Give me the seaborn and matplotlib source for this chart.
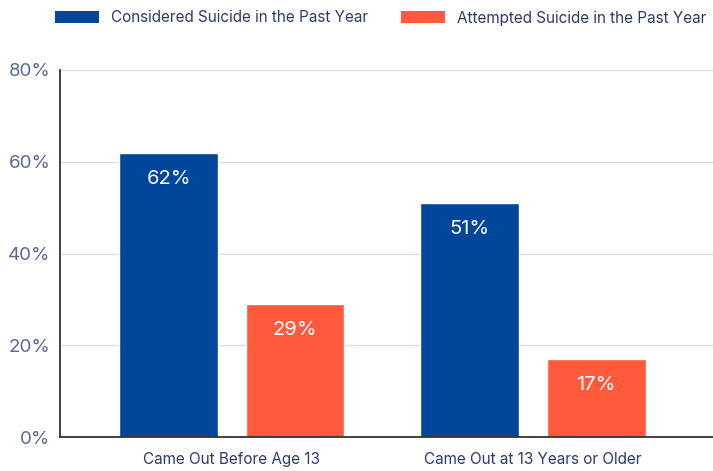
import matplotlib
matplotlib.use("Agg")
import matplotlib.pyplot as plt
import seaborn as sns
import pandas as pd
from matplotlib.patches import Patch

categories = ["Came Out Before Age 13", "Came Out at 13 Years or Older"]
series_names = ["Considered Suicide in the Past Year", "Attempted Suicide in the Past Year"]
considered = [62, 51]
attempted = [29, 17]
y_ticks = [0, 20, 40, 60, 80]
y_tick_labels = ["0%", "20%", "40%", "60%", "80%"]

colors = ["#00479b", "#ff5a3c"]
tick_color = "#5c6890"
cat_color = "#2e3a6b"

df = pd.DataFrame({
    "category": categories * 2,
    "series": [series_names[0]] * 2 + [series_names[1]] * 2,
    "value": considered + attempted,
})

sns.set_style("white")
plt.rcParams["font.family"] = ["Inter", "DejaVu Sans"]

fig = plt.figure(figsize=(7.13, 4.71), dpi=100)
ax = fig.add_axes([60 / 713, 34 / 471, 653 / 713, 367 / 471])

sns.barplot(data=df, x="category", y="value", hue="series", hue_order=series_names,
            palette=colors, width=0.84, gap=0.22, ax=ax, legend=False, saturation=1)

ax.set_ylim(0, 80)
ax.set_xlim(-0.571, 1.598)
ax.set_yticks(y_ticks)
ax.set_yticklabels(y_tick_labels, color=tick_color, fontsize=13.5)
ax.tick_params(axis="y", direction="in", length=11, width=1.5, color="#333333", pad=7)
ax.tick_params(axis="x", length=0, pad=11, labelsize=11, labelcolor=cat_color)
ax.yaxis.grid(True, color="#dddddd", linewidth=1)
ax.set_axisbelow(True)
ax.set_xlabel("")
ax.set_ylabel("")
for s in ["top", "right"]:
    ax.spines[s].set_visible(False)
for s in ["left", "bottom"]:
    ax.spines[s].set_color("#333333")
    ax.spines[s].set_linewidth(1.3)

for cont in ax.containers:
    for bar in cont:
        h = bar.get_height()
        ax.annotate(f"{h:.0f}%", (bar.get_x() + bar.get_width() / 2, h),
                    xytext=(0, -19), textcoords="offset points",
                    ha="center", va="center", color="white", fontsize=14.5)

handles = [Patch(facecolor=c, edgecolor="none") for c in colors]
fs = 11
px = fs * 100 / 72
fig.legend(handles, series_names, loc="center left", bbox_to_anchor=(55 / 713, 1 - 18 / 471),
           ncol=2, frameon=False, prop={"size": fs},
           labelcolor=cat_color, borderpad=0, borderaxespad=0,
           handlelength=44 / px, handleheight=12 / px, handletextpad=12 / px,
           columnspacing=33 / px)

fig.savefig("out.png", dpi=100)
